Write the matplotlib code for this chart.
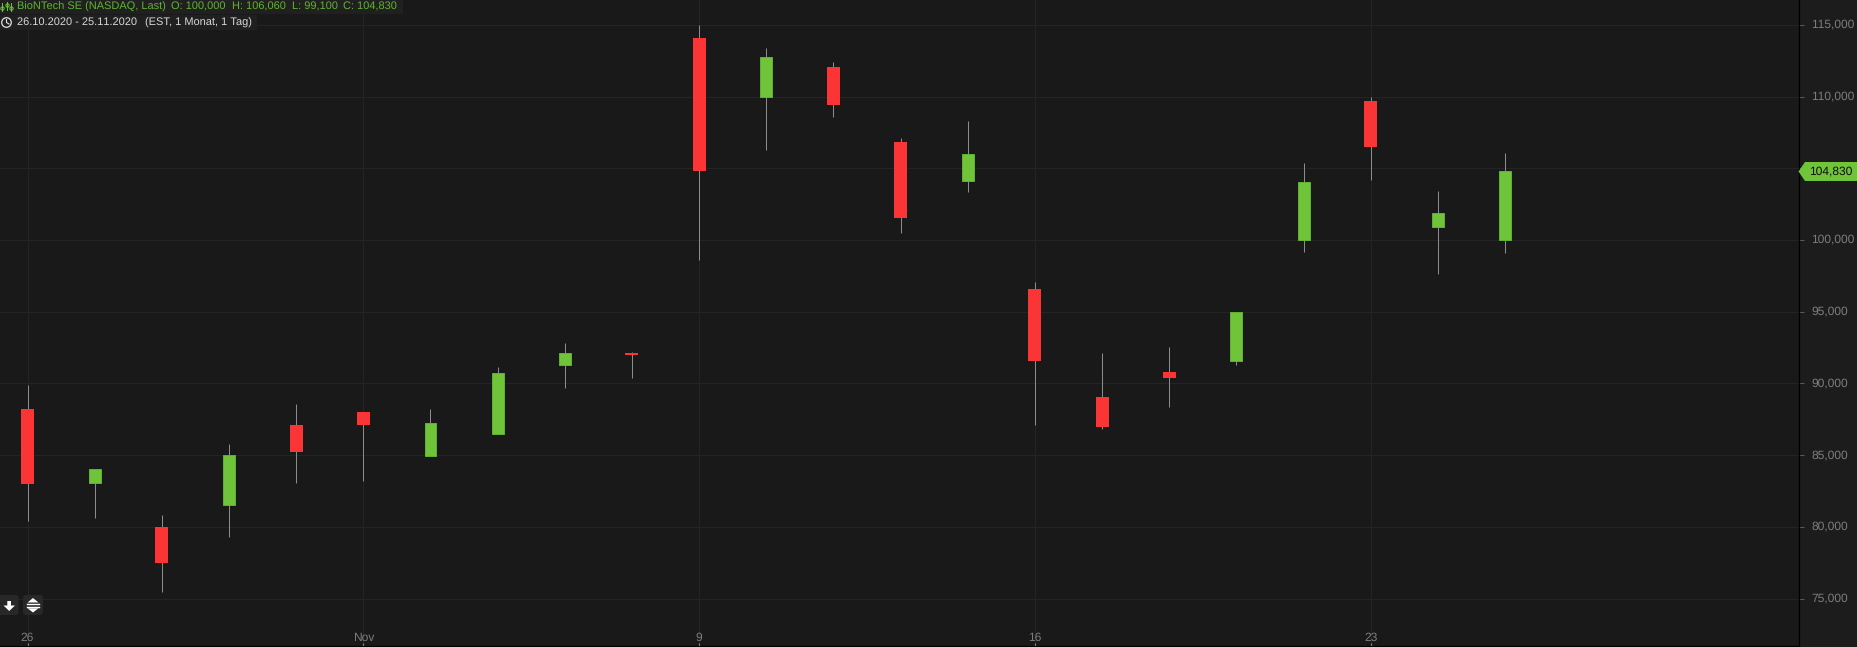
import numpy as np
import matplotlib
matplotlib.use('Agg')
import matplotlib.pyplot as plt
from matplotlib.patches import Polygon, Circle, FancyBboxPatch
from matplotlib.transforms import ScaledTranslation

plt.rcParams['font.family'] = ['Liberation Sans', 'DejaVu Sans']
plt.rcParams['text.hinting'] = 'no_hinting'
plt.rcParams['text.hinting_factor'] = 1

# daily OHLC
opens  = [88.25, 83.05, 80.0, 81.5, 87.1, 88.0, 84.95, 86.5, 91.3, 92.1, 114.1, 110.0,
          112.05, 106.85, 104.1, 96.6, 89.05, 90.8, 91.55, 100.0, 109.7, 100.9, 100.0]
highs  = [89.9, 84.0, 80.8, 85.8, 88.6, 88.0, 88.25, 91.15, 92.85, 92.2, 115.0, 113.4,
          112.45, 107.1, 108.3, 97.1, 92.15, 92.55, 95.0, 105.35, 110.0, 103.45, 106.06]
lows   = [80.4, 80.6, 75.45, 79.3, 83.05, 83.2, 84.95, 86.5, 89.65, 90.4, 98.6, 106.25,
          108.55, 100.5, 103.35, 87.1, 86.85, 88.35, 91.3, 99.15, 104.2, 97.6, 99.1]
closes = [83.0, 84.0, 77.5, 85.0, 85.2, 87.1, 87.25, 90.75, 92.1, 92.0, 104.8, 112.75,
          109.4, 101.55, 106.0, 91.55, 86.95, 90.4, 94.95, 104.05, 106.5, 101.9, 104.83]

x_ticks = [0, 5, 10, 15, 20]
x_labels = ['26', 'Nov', '9', '16', '23']
y_ticks = [75, 80, 85, 90, 95, 100, 105, 110, 115]
y_labels = ['75,000', '80,000', '85,000', '90,000', '95,000', '100,000', '', '110,000', '115,000']

BG = '#191919'
PANEL = '#1c1c1c'
GRID = '#242424'
GREEN = '#6fc43a'
GREEN_EDGE = '#5fb52f'
RED = '#fb3535'
TXT = '#7d7d7d'
FS = 8.1
AXIS_FS = 8.4

W, H = 1857, 647
PLOT_W, PLOT_H = 1798.5, 646
fig = plt.figure(figsize=(W / 100, H / 100), dpi=100, facecolor=PANEL)
ax = fig.add_axes([0, 1 - PLOT_H / H, PLOT_W / W, PLOT_H / H], facecolor=BG)
ymin, ymax = 71.69, 116.74
ax.set_xlim(-0.41, 26.37)
ax.set_ylim(ymin, ymax)

ax.grid(True, color=GRID, lw=0.72)
ax.set_axisbelow(True)

xs = np.arange(len(opens))
o, h, l, c = map(np.array, (opens, highs, lows, closes))
up = c >= o
ax.vlines(xs, l, h, color='#8c8c8c', lw=0.72, zorder=2)
ax.bar(xs[up], (c - o)[up], bottom=o[up], width=0.178, color=GREEN,
       edgecolor=GREEN_EDGE, lw=0.7, zorder=3)
ax.bar(xs[~up], (o - c)[~up], bottom=c[~up], width=0.193, color=RED, lw=0, zorder=3)

ax.set_xticks(x_ticks)
ax.set_xticklabels(x_labels)
ax.set_yticks(y_ticks)
ax.set_yticklabels(y_labels)
ax.yaxis.tick_right()
ax.tick_params(axis='y', length=3.6, width=0.72, color='#5a5a5a', labelcolor=TXT,
               labelsize=AXIS_FS, pad=5.5)
ax.tick_params(axis='x', direction='in', length=2.5, width=0.8, color='#8a8a8a',
               labelcolor=TXT, labelsize=AXIS_FS, pad=-10.3)
up_shift = ScaledTranslation(0, 1.5 / 100, fig.dpi_scale_trans)
for lab in ax.get_yticklabels():
    lab.set_transform(lab.get_transform() + up_shift)
for s in ax.spines.values():
    s.set_visible(False)
for side in ['right', 'bottom']:
    ax.spines[side].set_visible(True)
    ax.spines[side].set_color('black')
    ax.spines[side].set_linewidth(0.9)

# overlay in pixels for header, buttons and price tag
ov = fig.add_axes([0, 0, 1, 1], facecolor='none')
ov.set_xlim(0, W)
ov.set_ylim(H, 0)
ov.axis('off')

ov.add_patch(plt.Rectangle((0, 0), 403, 14, color='#202020', lw=0))
ov.add_patch(plt.Rectangle((0, 15), 257, 15, color='#202020', lw=0))
ov.text(17, 6.5, 'BioNTech SE (NASDAQ, Last)', color='#5fb52f', fontsize=FS, va='center', ha='left')
ov.text(171, 6.5, 'O: 100,000', color='#5fb52f', fontsize=FS, va='center', ha='left')
ov.text(232, 6.5, 'H: 106,060', color='#5fb52f', fontsize=FS, va='center', ha='left')
ov.text(292, 6.5, 'L: 99,100', color='#5fb52f', fontsize=FS, va='center', ha='left')
ov.text(343, 6.5, 'C: 104,830', color='#5fb52f', fontsize=FS, va='center', ha='left')
ov.text(17, 22.5, '26.10.2020 - 25.11.2020', color='#d8d8d8', fontsize=FS, va='center', ha='left')
ov.text(145, 22.5, '(EST, 1 Monat, 1 Tag)', color='#d8d8d8', fontsize=FS, va='center', ha='left')

# small bars icon
for bx, t, b, d in [(2, 3, 11, 8), (6.5, 2, 10, 5), (10.5, 3, 11, 8)]:
    ov.plot([bx, bx], [t, b], color=GREEN, lw=0.7)
    ov.plot([bx], [d], 'o', ms=2.4, mfc='none', mec=GREEN, mew=0.7)
# clock icon
ov.add_patch(Circle((6.5, 22.5), 4.8, fill=False, ec='#e0e0e0', lw=0.9))
ov.plot([6.5, 6.5, 9], [19.5, 22.5, 24], color='#e0e0e0', lw=0.8)

# buttons bottom left
ov.add_patch(FancyBboxPatch((-4, 595), 22.5, 20, boxstyle='round,pad=0,rounding_size=3',
                            fc='#282828', ec='none'))
ov.add_patch(FancyBboxPatch((23, 595), 20, 20, boxstyle='round,pad=0,rounding_size=3',
                            fc='#282828', ec='none'))
ov.add_patch(Polygon([[7.3, 601], [7.3, 605.5], [3.5, 605.5], [9.2, 611], [15, 605.5], [11, 605.5], [11, 601]],
                     fc='white', ec='none'))
ov.add_patch(Polygon([[27.5, 602.5], [33, 598], [38.5, 602.5]], fc='white', ec='none'))
ov.plot([27, 39], [604, 604], color='white', lw=1.0)
ov.plot([27, 39], [606.7, 606.7], color='white', lw=1.0)
ov.add_patch(Polygon([[27.5, 608.3], [33, 612.5], [38.5, 608.3]], fc='white', ec='none'))

# last price tag
tag_y = (ymax - closes[-1]) / (ymax - ymin) * PLOT_H + 0.7
ov.add_patch(Polygon([[PLOT_W, tag_y], [1805, tag_y - 9.5], [W, tag_y - 9.5],
                      [W, tag_y + 9.5], [1805, tag_y + 9.5]], fc=GREEN, ec='none'))
ov.text(1809, tag_y, '104,830', color='#0d0d0d', fontsize=AXIS_FS, va='center', ha='left')

fig.savefig('out.png', dpi=100, facecolor=fig.get_facecolor())
